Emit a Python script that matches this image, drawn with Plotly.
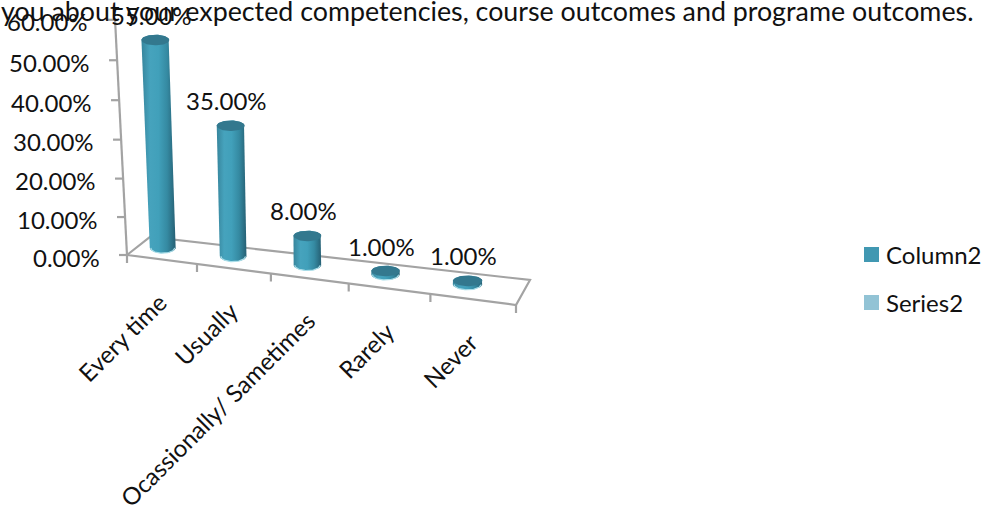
import numpy as np
import plotly.graph_objects as go

# ---- data ----
categories = ["Every time", "Usually", "Ocassionally/ Sametimes", "Rarely", "Never"]
column2_values = [55, 35, 8, 1, 1]
value_ticks = [0, 10, 20, 30, 40, 50, 60]
legend_names = ["Column2", "Series2"]
title_text = "you about your expected competencies, course outcomes and programe outcomes."

# ---- pseudo-3D projection (pixel space of the 997x519 figure) ----
FRONT_L, FRONT_R = (127, 255), (516, 305)
BACK_L, BACK_R = (150, 237), (530, 280)
VANISH_X = 308
FONT = "Lato"
FS = 24
INK = "#111111"
AXIS = "#a3a3a3"


def frac(t):
    return (68.05 * t + 1.95 * t * t) / 389.0


def floor(t, d):
    f = frac(t)
    xf = FRONT_L[0] + (FRONT_R[0] - FRONT_L[0]) * f
    yf = FRONT_L[1] + (FRONT_R[1] - FRONT_L[1]) * f
    xb = BACK_L[0] + (BACK_R[0] - BACK_L[0]) * f
    yb = BACK_L[1] + (BACK_R[1] - BACK_L[1]) * f
    return xf + (xb - xf) * d, yf + (yb - yf) * d


def project(t, d, v):
    x, y = floor(t, d)
    h = (3.77 * v + 0.0025 * v * v) * (1 - 0.06 * d)
    return x + (x - VANISH_X) * (0.0011 - 0.00033 * d) * v, y - h


fig = go.Figure()


def line(xs, ys, color=AXIS, width=2.2):
    fig.add_trace(go.Scatter(x=xs, y=ys, mode="lines", hoverinfo="skip", showlegend=False,
                             line=dict(color=color, width=width)))


def text(x, y, s, **kw):
    fig.add_annotation(x=x, y=y, xref="x", yref="y", text=s, showarrow=False,
                       font=dict(family=FONT, size=kw.pop("size", FS), color=INK), **kw)


# floor outline
corners = [(0, 0), (5, 0), (5, 1), (0, 1), (0, 0)]
pts = [floor(*c) for c in corners]
line([p[0] for p in pts], [p[1] for p in pts])

# value axis
top = project(0, 0, value_ticks[-1])
line([FRONT_L[0], top[0]], [FRONT_L[1], top[1]])
for v in value_ticks:
    x, y = project(0, 0, v)
    line([x - 8, x], [y, y])
    text(x - 25, y + 2, f"{v:.2f}%", xanchor="right", yanchor="middle")

# category ticks and labels
for i in range(6):
    x, y = floor(i, 0)
    line([x, x], [y, y + 8])
for i, c in enumerate(categories):
    x, y = floor(i + 0.5, 0)
    text(x + 13, y + 25, c, textangle=-45, xanchor="right", yanchor="top")

# cylinders
theta = np.linspace(0, np.pi, 40)
body_scale = [[0, "#37859c"], [0.25, "#46a3bd"], [0.5, "#41a0ba"], [0.75, "#358aa2"], [1, "#266074"]]
for i, v in enumerate(column2_values):
    t = i + 0.34
    bx, by = project(t, 0.55, 0)
    tx, ty = project(t, 0.55, v)
    rb = 12.8 + 2.2 * frac(t)
    rt = rb * (1 + 0.0014 * v)
    ry = 5.3
    xs = np.concatenate([bx - rb * np.cos(theta), tx + rt * np.cos(theta)])
    ys = np.concatenate([by + ry * np.sin(theta), ty - ry * np.sin(theta)])
    fig.add_trace(go.Scatter(x=np.append(xs, xs[0]), y=np.append(ys, ys[0]), mode="lines",
                             fill="toself", line=dict(width=0), hoverinfo="skip", showlegend=False,
                             fillgradient=dict(type="horizontal", colorscale=body_scale)))
    # light rim at the base
    line(bx - rb * 0.92 * np.cos(theta), by + ry * np.sin(theta), color="#a9dde8", width=1.2)
    # top cap
    a = np.linspace(0, 2 * np.pi, 60)
    fig.add_trace(go.Scatter(x=tx + rt * np.cos(a), y=ty + ry * np.sin(a), mode="lines",
                             fill="toself", line=dict(width=0), hoverinfo="skip", showlegend=False,
                             fillcolor="#33788e"))
    text(tx - 4, ty - 25, f"{v:.2f}%", xanchor="center", yanchor="middle")

# legend
for name, color, yy in zip(legend_names, ["#4198b2", "#92c3d5"], [254.5, 302.5]):
    fig.add_trace(go.Scatter(x=[871.5], y=[yy], mode="markers", name=name, hoverinfo="skip",
                             showlegend=False, marker=dict(symbol="square", size=15, color=color)))
    text(884, yy, name, xanchor="left", yanchor="middle")

# clipped title
fig.add_annotation(x=975, y=11, xref="x", yref="y", text=title_text, showarrow=False,
                   xanchor="right", yanchor="middle",
                   font=dict(family=FONT, size=26.8, color=INK))

fig.update_layout(width=997, height=519, autosize=False, margin=dict(l=0, r=0, t=0, b=0, pad=0),
                  paper_bgcolor="white", plot_bgcolor="white", showlegend=False,
                  xaxis=dict(range=[0, 997], visible=False, fixedrange=True),
                  yaxis=dict(range=[519, 0], visible=False, fixedrange=True))
fig.write_html("out.html", post_script="document.body.style.margin='0';",
               config={"displayModeBar": False})
